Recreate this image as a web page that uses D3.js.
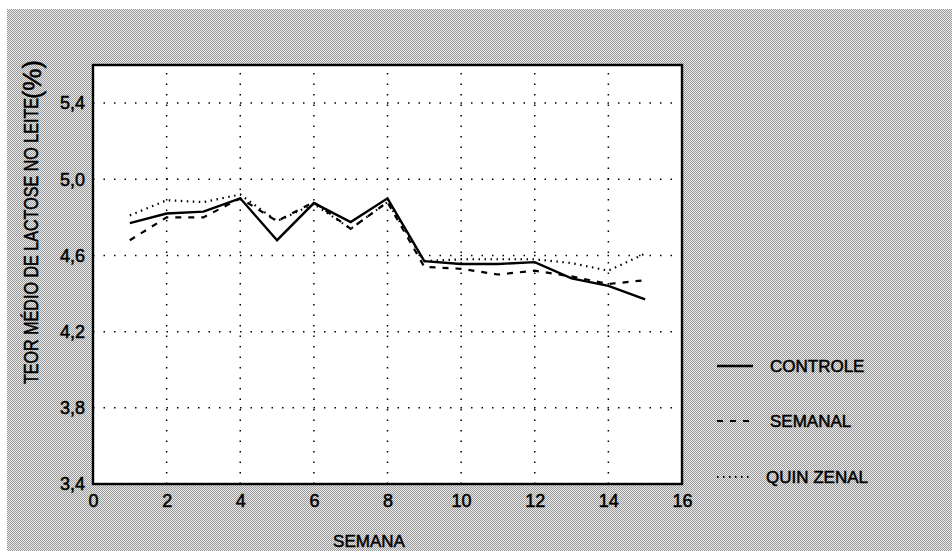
<!DOCTYPE html>
<html><head><meta charset="utf-8">
<script src="https://cdn.jsdelivr.net/npm/d3@7"></script>
<style>html,body{margin:0;padding:0;background:#fff;}svg{display:block;}</style>
</head><body>
<script>
const weeks = [1,2,3,4,5,6,7,8,9,10,11,12,13,14,15];
const controle  = [4.77,4.82,4.83,4.90,4.68,4.875,4.775,4.90,4.57,4.555,4.555,4.565,4.48,4.44,4.37];
const semanal   = [4.68,4.80,4.80,4.90,4.78,4.88,4.74,4.88,4.54,4.53,4.50,4.52,4.49,4.45,4.47];
const quinzenal = [4.81,4.89,4.88,4.92,4.78,4.87,4.74,4.88,4.57,4.58,4.58,4.58,4.56,4.52,4.61];
const xTicks = [0,2,4,6,8,10,12,14,16];
const yTicks = [3.4,3.8,4.2,4.6,5.0,5.4];
const seriesNames = ["CONTROLE","SEMANAL","QUIN ZENAL"];

const W = 952, H = 551;
const FONT = "Arial, 'Liberation Sans', sans-serif";
const svg = d3.select("body").append("svg").attr("width", W).attr("height", H);
const defs = svg.append("defs");
const pat = defs.append("pattern").attr("id","ht").attr("patternUnits","userSpaceOnUse")
  .attr("width",2).attr("height",2);
pat.append("rect").attr("width",2).attr("height",2).attr("fill","#ececec");
pat.append("rect").attr("x",0).attr("y",0).attr("width",1).attr("height",1).attr("fill","#979797");
pat.append("rect").attr("x",1).attr("y",1).attr("width",1).attr("height",1).attr("fill","#979797");

svg.append("rect").attr("x",0).attr("y",0).attr("width",W).attr("height",H).attr("fill","#fff");
svg.append("rect").attr("x",7).attr("y",9).attr("width",W-7).attr("height",H-9).attr("fill","url(#ht)");

const L = 93, R = 682, T = 65, B = 484;
const x = d3.scaleLinear().domain([0,16]).range([L,R]);
const y = d3.scaleLinear().domain([3.4,5.6]).range([B,T]);

svg.append("rect").attr("x",L).attr("y",T).attr("width",R-L).attr("height",B-T).attr("fill","#fff");

// grid
const grid = svg.append("g");
grid.selectAll("line.h").data(yTicks.slice(1)).join("line")
  .attr("x1",L).attr("x2",R).attr("y1",d=>y(d)).attr("y2",d=>y(d))
  .attr("stroke","#000").attr("stroke-width",1.5).attr("stroke-dasharray","1.5,9");
grid.selectAll("line.v").data(xTicks.slice(1,-1)).join("line")
  .attr("y1",B).attr("y2",T).attr("x1",d=>x(d)).attr("x2",d=>x(d))
  .attr("stroke","#000").attr("stroke-width",1.5).attr("stroke-dasharray","1.5,9");

// axes
const fmt = d => d3.format(".1f")(d).replace(".", ",");
const yAxis = svg.append("g").attr("transform",`translate(${L},0)`)
  .call(d3.axisLeft(y).tickValues(yTicks).tickFormat(fmt).tickSize(0).tickPadding(8));
const xAxis = svg.append("g").attr("transform",`translate(0,${B})`)
  .call(d3.axisBottom(x).tickValues(xTicks).tickFormat(d3.format("d")).tickSize(0).tickPadding(10));
[yAxis,xAxis].forEach(a=>{
  a.select(".domain").remove();
  a.selectAll("text").attr("font-family",FONT).attr("font-size",18).attr("fill","#000")
    .attr("stroke","#000").attr("stroke-width",0.5);
});

// frame
svg.append("rect").attr("x",L).attr("y",T).attr("width",R-L).attr("height",B-T)
  .attr("fill","none").attr("stroke","#000").attr("stroke-width",2.4);

// lines
const line = d3.line().x((d,i)=>x(weeks[i])).y(d=>y(d));
const styles = [
  {data:controle, dash:"none", w:2.4},
  {data:semanal, dash:"6,7", w:2.2},
  {data:quinzenal, dash:"1.5,4.5", w:2.2}
];
styles.forEach(s=>{
  svg.append("path").datum(s.data).attr("d",line).attr("fill","none")
    .attr("stroke","#000").attr("stroke-width",s.w)
    .attr("stroke-dasharray",s.dash);
});

// axis titles
svg.append("text").attr("x",369).attr("y",547).attr("text-anchor","middle")
  .attr("font-family",FONT).attr("font-size",17).attr("fill","#000")
  .attr("stroke","#000").attr("stroke-width",0.5)
  .text("SEMANA");
svg.append("text").attr("transform","translate(38,384) rotate(-90)")
  .attr("font-family",FONT).attr("font-size",20).attr("fill","#000")
  .attr("stroke","#000").attr("stroke-width",0.5)
  .attr("textLength",286).attr("lengthAdjust","spacingAndGlyphs")
  .text("TEOR MÉDIO DE LACTOSE NO LEITE");
svg.append("text").attr("transform","translate(41,99) rotate(-90)")
  .attr("font-family",FONT).attr("font-size",25).attr("fill","#000")
  .attr("stroke","#000").attr("stroke-width",0.5)
  .text("(%)");

// legend
const lg = svg.append("g");
const legY = [366, 421, 477];
styles.forEach((s,i)=>{
  lg.append("line").attr("x1",717).attr("x2",753).attr("y1",legY[i]).attr("y2",legY[i])
    .attr("stroke","#000").attr("stroke-width",s.w).attr("stroke-dasharray",s.dash);
  lg.append("text").attr("x", i===2 ? 766 : 770).attr("y",legY[i]+6)
    .attr("font-family",FONT).attr("font-size",17).attr("fill","#000")
    .attr("stroke","#000").attr("stroke-width",0.5)
    .text(seriesNames[i]);
});
</script>
</body></html>
